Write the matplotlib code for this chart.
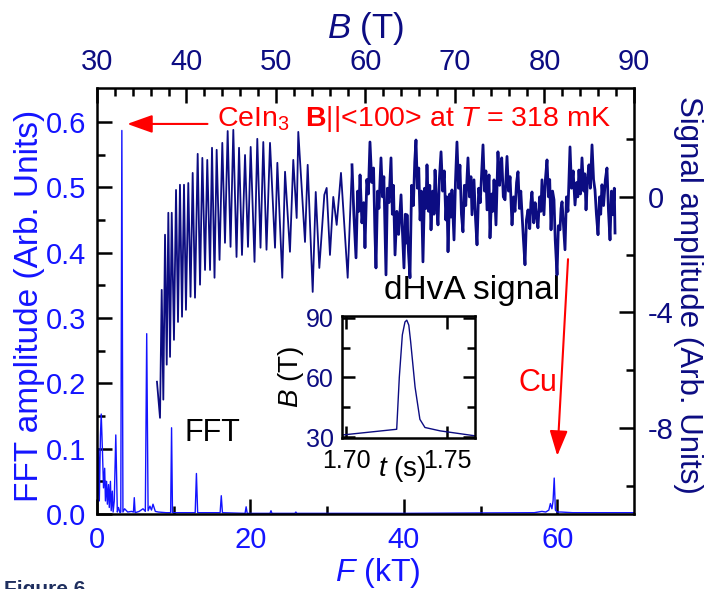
import matplotlib
matplotlib.use("Agg")
import matplotlib.pyplot as plt

plt.rcParams['font.family'] = ['Liberation Sans', 'DejaVu Sans']
plt.rcParams['mathtext.fontset'] = 'custom'
plt.rcParams['mathtext.rm'] = 'Liberation Sans'
plt.rcParams['mathtext.it'] = 'Liberation Sans:italic'
plt.rcParams['mathtext.bf'] = 'Liberation Sans:bold'
plt.rcParams['axes.unicode_minus'] = False

BLUE = '#1414ff'
NAVY = '#0c0c82'

# FFT spectrum, F in kT
fft_f = [0.0, 0.1, 0.2, 0.3, 0.45, 0.55, 0.7, 0.85, 1.0, 1.1, 1.25, 1.35, 1.5, 1.6,
         1.75, 1.85, 2.0, 2.1, 2.25, 2.45, 2.65, 2.8, 3.0, 3.1, 3.24, 3.38, 3.6, 4.0,
         4.5, 4.75, 4.86, 4.97, 5.5, 6.0, 6.3, 6.48, 6.66, 6.9, 7.1, 7.3, 7.6, 8.0,
         9.0, 9.6, 9.72, 9.84, 10.5, 12.8, 12.96, 13.12, 16.05, 16.2, 16.35, 19.3,
         19.44, 19.58, 22.55, 22.68, 22.8, 25.8, 25.92, 26.05, 40.0, 57.0, 58.0,
         58.5, 58.9, 59.1, 59.3, 59.45, 59.6, 59.75, 60.0, 60.5, 62.0, 70.0]
fft_amp = [0.0, 0.03, 0.10, 0.02, 0.12, 0.153, 0.10, 0.04, 0.07, 0.02, 0.05, 0.015,
           0.045, 0.01, 0.05, 0.005, 0.035, 0.003, 0.02, 0.121, 0.003, 0.01, 0.002,
           0.003, 0.587, 0.003, 0.008, 0.003, 0.004, 0.003, 0.025, 0.002, 0.004,
           0.008, 0.004, 0.276, 0.005, 0.012, 0.006, 0.015, 0.004, 0.003, 0.002,
           0.002, 0.132, 0.002, 0.002, 0.002, 0.062, 0.002, 0.002, 0.028, 0.002,
           0.001, 0.011, 0.001, 0.001, 0.005, 0.001, 0.001, 0.003, 0.001, 0.001,
           0.002, 0.004, 0.003, 0.006, 0.016, 0.008, 0.02, 0.055, 0.006, 0.003,
           0.003, 0.002, 0.002]

# dHvA signal vs B (T), low field part (resolved oscillations)
sig_b_low = [36.70, 37.04, 37.23, 37.41, 37.60, 37.79, 37.97, 38.16, 38.35, 38.60,
             38.83, 39.05, 39.27, 39.50, 39.72, 39.94, 40.20, 40.45, 40.69, 40.95,
             41.25, 41.51, 41.77, 42.07, 42.32, 42.63, 42.85, 43.13, 43.37, 43.69,
             44.00, 44.30, 44.60, 44.92, 45.23, 45.59, 45.87, 46.20, 46.54, 46.87,
             47.17, 47.60, 47.91, 48.27, 48.58, 48.94, 49.33, 49.89, 50.15, 50.70,
             51.01, 51.56, 51.93, 52.31, 52.49, 53.24, 53.54, 54.10, 54.44, 54.84,
             55.40, 55.66, 56.03, 56.40, 56.78, 57.26, 58.01, 58.49]
sig_amp_low = [-6.40, -7.65, -3.22, -7.02, -1.31, -5.81, -0.55, -5.54, -0.55, -4.95,
               0.24, -4.33, 0.42, -4.15, 0.42, -3.91, 0.48, -3.46, 0.83, -3.49,
               1.49, -3.04, 1.35, -2.53, 1.28, -2.53, 1.70, -2.80, 1.63, -2.18,
               1.87, -1.59, 2.28, -1.73, 2.32, -2.08, 1.70, -2.01, 1.45, -1.73,
               1.73, -2.25, 2.01, -1.76, 1.90, -1.83, 1.87, -1.76, 1.18, -2.80,
               0.87, -1.90, 1.28, -0.73, 2.25, -1.56, 1.11, -3.29, 0.17, -2.46,
               0.07, 0.31, -2.01, 0.0, -0.97, 0.83, -2.80, 1.11]

# high field part (dense, noisy), (B, amplitude) pairs
sig_high = [
    (58.49, 1.11), (58.70, -0.6), (58.94, -2.11), (59.12, 0.2), (59.25, -0.5),
    (59.39, 0.76), (59.60, -0.9), (59.80, -0.2), (59.94, -1.76), (60.15, 0.6),
    (60.32, 0.1), (60.50, 1.90), (60.70, 0.5), (60.90, 1.0), (61.05, -1.2),
    (61.17, -2.46), (61.35, 0.2), (61.50, -0.4), (61.73, 1.35), (61.90, 0.0),
    (62.05, 0.7), (62.20, -1.5), (62.29, -2.70), (62.45, 0.3), (62.62, -0.2),
    (62.85, 1.35), (63.00, -0.6), (63.12, 0.4), (63.30, -2.01), (63.50, -0.5),
    (63.70, -1.3), (63.97, 0.07), (64.10, -1.0), (64.30, -2.46), (64.45, -0.6),
    (64.55, -1.6), (64.64, -0.62), (64.80, -1.9), (64.97, -2.80), (65.15, 0.4),
    (65.35, -0.3), (65.50, 1.2), (65.64, 1.97), (65.80, 0.3), (65.95, 1.0),
    (66.10, -0.8), (66.25, 0.2), (66.42, -2.25), (66.60, 0.3), (66.75, -0.4),
    (66.87, 1.11), (67.05, -0.5), (67.18, 0.4), (67.32, -1.14), (67.50, 0.2),
    (67.65, -0.6), (67.77, 0.93), (67.95, -0.3), (68.10, -0.97), (68.25, 0.6),
    (68.44, 1.56), (68.62, 0.2), (68.80, 0.9), (68.98, -0.8), (69.10, 0.0),
    (69.22, -1.90), (69.40, 0.1), (69.55, -0.7), (69.66, 0.24), (69.89, -1.49),
    (70.05, 0.5), (70.22, 1.90), (70.40, 0.3), (70.55, 1.1), (70.72, -0.6),
    (70.89, -1.21), (71.05, 0.4), (71.20, -0.3), (71.45, 1.35), (71.62, 0.0),
    (71.78, 0.7), (71.90, -0.62), (72.12, 0.59), (72.30, -0.8), (72.46, -1.66),
    (72.65, 0.3), (72.82, -0.2), (73.00, 1.0), (73.13, 1.80), (73.30, 0.2),
    (73.45, 0.9), (73.58, -0.45), (73.80, 0.76), (73.91, -1.42), (74.10, 0.1),
    (74.22, -0.5), (74.36, 0.59), (74.58, -0.97), (74.80, 1.56), (74.98, 0.4),
    (75.10, 1.0), (75.22, 1.35), (75.40, 0.0), (75.59, -0.10), (75.81, 1.40),
    (75.98, 0.2), (76.15, 0.7), (76.37, -0.97), (76.55, 0.0), (76.70, -0.5),
    (76.88, 0.5), (77.04, 0.87), (77.20, -0.4), (77.35, 0.2), (77.49, -0.62),
    (77.65, -1.5), (77.82, -2.35), (77.98, -0.8), (78.16, -0.45), (78.35, -1.1),
    (78.48, -0.2), (78.60, 0.17), (78.80, -0.9), (78.95, -0.2), (79.12, -0.7),
    (79.27, -1.07), (79.45, 0.0), (79.60, -0.5), (79.72, 0.59), (79.94, -0.62),
    (80.10, 0.6), (80.28, 1.28), (80.45, 0.0), (80.58, 0.6), (80.73, -1.14),
    (80.90, 0.2), (81.06, -0.10), (81.20, -1.5), (81.40, -2.70), (81.55, -1.0),
    (81.73, -1.14), (81.85, -0.4), (81.96, -0.17), (82.12, -1.0), (82.29, -1.83),
    (82.45, 0.0), (82.62, -0.5), (82.85, 1.73), (83.02, 0.3), (83.20, 0.9),
    (83.41, -0.28), (83.60, 0.5), (83.72, 0.0), (83.85, 0.93), (84.02, 0.1),
    (84.19, 1.35), (84.38, 0.2), (84.50, 0.8), (84.64, -0.45), (84.80, 0.6),
    (84.97, 1.11), (85.12, 0.3), (85.31, 1.80), (85.48, 0.6), (85.64, 0.24),
    (85.80, -0.6), (85.98, -1.31), (86.15, 0.0), (86.28, -0.6), (86.42, 0.42),
    (86.60, -0.3), (86.80, 0.6), (86.98, 1.00), (87.15, -0.5), (87.32, -1.49),
    (87.48, 0.2), (87.65, -0.62), (87.80, 0.3), (87.88, -1.25),
]
sig_b_high, sig_amp_high = zip(*sig_high)

# inset: field pulse B(t)
pulse_t = [1.698, 1.7251, 1.7264, 1.7279, 1.7292, 1.7301, 1.7311, 1.7320, 1.7342,
           1.7366, 1.7391, 1.7466, 1.7639]
pulse_b = [31.0, 33.9, 60.2, 81.5, 88.0, 88.9, 86.4, 78.2, 55.2, 38.9, 34.8, 33.1, 30.6]

fig = plt.figure(figsize=(7.08, 5.89), dpi=100)
pos = [97 / 708, 1 - 514 / 589, 537 / 708, 426 / 589]

ax = fig.add_axes(pos)
ax.plot(fft_f, fft_amp, color=BLUE, lw=1.0)
ax.set_xlim(0, 70)
ax.set_ylim(0, 0.652)
ax.set_xticks([0, 20, 40, 60])
ax.set_xticks([10, 30, 50], minor=True)
ax.set_yticks([0.0, 0.1, 0.2, 0.3, 0.4, 0.5, 0.6])
ax.set_yticks([0.05, 0.15, 0.25, 0.35, 0.45, 0.55], minor=True)
ax.set_yticklabels(['0.0', '0.1', '0.2', '0.3', '0.4', '0.5', '0.6'])
ax.tick_params(which='both', direction='in', width=1.8, colors='black',
               labelcolor=BLUE, labelsize=21, top=False, right=False)
ax.tick_params(axis='x', which='both', pad=9)
ax.tick_params(axis='y', which='both', pad=8)
ax.tick_params(which='major', length=11)
ax.tick_params(which='minor', length=6)
for s in ax.spines.values():
    s.set_linewidth(1.8)

sig = fig.add_axes(pos, frameon=False)
sig.plot(sig_b_low, sig_amp_low, color=NAVY, lw=1.3)
sig.plot(sig_b_high, sig_amp_high, color=NAVY, lw=2.0)
sig.set_xlim(30, 90)
sig.set_ylim(-10.98, 3.77)
sig.xaxis.tick_top()
sig.yaxis.tick_right()
sig.set_xticks([30, 40, 50, 60, 70, 80, 90])
sig.set_xticks([32, 34, 36, 38, 42, 44, 46, 48, 52, 54, 56, 58, 62, 64, 66, 68,
                72, 74, 76, 78, 82, 84, 86, 88], minor=True)
sig.set_yticks([-8, -4, 0])
sig.set_yticks([-10, -6, -2, 2], minor=True)
sig.tick_params(which='both', direction='in', width=1.8, colors='black',
                labelcolor=NAVY, labelsize=21)
sig.tick_params(axis='x', which='both', pad=9)
sig.tick_params(axis='y', which='both', pad=10)
sig.tick_params(which='major', length=11)
sig.tick_params(which='minor', length=6)

# axis titles
fig.text(0.042, 0.48, 'FFT amplitude (Arb. Units)', rotation=90, color=BLUE,
         fontsize=24, ha='center', va='center')
fig.text(0.972, 0.50, 'Signal amplitude (Arb. Units)', rotation=270, color=NAVY,
         fontsize=22.5, ha='center', va='center')
fig.text(0.533, 0.027, '$F$ (kT)', color=BLUE, fontsize=23, ha='center', va='center')
fig.text(0.516, 0.952, '$B$ (T)', color=NAVY, fontsize=25, ha='center', va='center')

# annotations
arrow = dict(arrowstyle='-|>,head_length=0.7,head_width=0.25', color='red', lw=1.5,
             mutation_scale=22, shrinkA=0, shrinkB=0)
ax.annotate('', xy=(3.94, 0.597), xytext=(14.4, 0.597), arrowprops=arrow)
ax.text(15.6, 0.604, r'CeIn$_3$  $\mathbf{B}$||<100> at $T$ = 318 mK', color='red',
        fontsize=20.5, ha='left', va='center')
ax.annotate('', xy=(60.0, 0.089), xytext=(61.4, 0.39), arrowprops=arrow)
ax.text(55.0, 0.2, 'Cu', color='red', fontsize=22, ha='left', va='center')
ax.text(37.4, 0.342, 'dHvA signal', color='black', fontsize=24, ha='left', va='center')
ax.text(11.4, 0.124, 'FFT', color='black', fontsize=22, ha='left', va='center')

# inset
ins = fig.add_axes([342 / 708, 1 - 438 / 589, 133 / 708, 122 / 589])
ins.plot(pulse_t, pulse_b, color=NAVY, lw=1.0)
ins.set_xlim(1.698, 1.7639)
ins.set_ylim(29.5, 91)
ins.set_xticks([1.70, 1.75])
ins.set_xticklabels(['1.70', '1.75'])
ins.set_yticks([30, 60, 90])
ins.set_yticks([45, 75], minor=True)
ins.tick_params(which='both', direction='in', width=1.8, labelsize=18,
                top=True, right=True)
ins.tick_params(which='major', length=9)
ins.tick_params(which='minor', length=6)
ins.tick_params(axis='y', labelcolor=NAVY, pad=6)
ins.tick_params(axis='x', labelcolor='black', pad=8)
for s in ins.spines.values():
    s.set_linewidth(1.8)
ins.set_xlabel('$t$ (s)', fontsize=20)
ins.xaxis.set_label_coords(0.455, -0.13)
ins.set_ylabel('$B$ (T)', fontsize=20, labelpad=0)

fig.text(0.005, 0.016, 'Figure 6', fontsize=15, fontweight='bold', color='#1f2f5f',
         ha='left', va='top')

fig.savefig('out.png', dpi=100)
